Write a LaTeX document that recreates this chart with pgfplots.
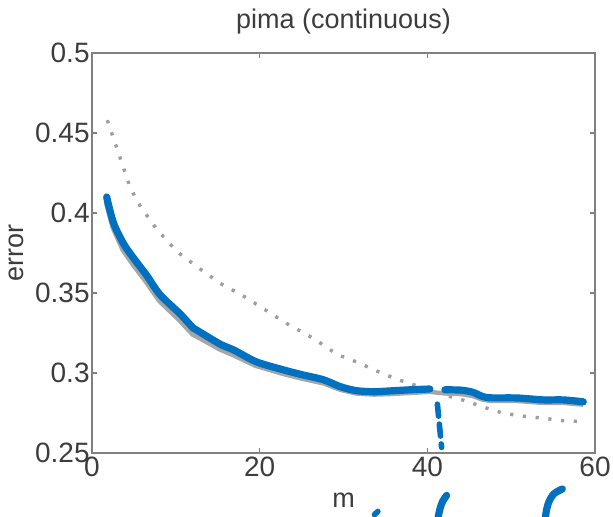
\documentclass[border=0pt]{standalone}
\usepackage{pgfplots}
\pgfplotsset{compat=1.18}
\usepackage{fontspec}
\setmainfont{Liberation Sans}
\definecolor{penblue}{RGB}{0,112,192}
\definecolor{axgray}{RGB}{128,128,128}
\definecolor{txtgray}{RGB}{60,60,60}
\begin{document}
\begin{tikzpicture}
\begin{axis}[
  scale only axis,
  width=251.5pt, height=200pt,
  xmin=0, xmax=60, ymin=0.25, ymax=0.5,
  xtick={0,20,40,60},
  ytick={0.25,0.3,0.35,0.4,0.45,0.5},
  yticklabels={0.25,0.3,0.35,0.4,0.45,0.5},
  tick align=inside,
  major tick length=2.5pt,
  every tick/.style={axgray, line width=0.8pt},
  axis line style={axgray, line width=1.3pt},
  /pgf/number format/assume math mode=true,
  tick label style={font=\fontsize{14}{16}\selectfont, text=txtgray},
  yticklabel style={inner sep=1pt},
  xticklabel style={inner sep=2pt},
  title={pima (continuous)},
  title style={font=\fontsize{13.5}{16}\selectfont, text=txtgray, yshift=0pt},
  xlabel={m},
  xlabel style={font=\fontsize{13.5}{16}\selectfont, text=txtgray, at={(axis description cs:0.5,0)}, anchor=base, yshift=-27pt},
  ylabel={error},
  ylabel style={font=\fontsize{13.5}{16}\selectfont, text=txtgray, at={(axis description cs:-0.150,0.5)}, anchor=center},
  clip=false,
]
% dotted gray curve
\addplot[black!38, line width=1.7pt, dash pattern=on 1.6pt off 4.8pt] coordinates {
(1.83,0.458)(2.35,0.450)(2.86,0.442)(3.42,0.4335)(3.9,0.426)(4.45,0.4175)
(5.13,0.410)(5.9,0.403)(6.9,0.396)(7.7,0.390)(10.1,0.376)(12.5,0.3665)
(15.3,0.356)(18.1,0.348)(20.8,0.339)(23.2,0.331)(26.4,0.3217)(29.2,0.3117)
(32.0,0.306)(33.6,0.302)(36.4,0.296)(37.9,0.2935)(41.5,0.287)(44.3,0.283)
(47.1,0.278)(49.1,0.2748)(51.9,0.2727)(53.9,0.2717)(56.2,0.2702)(58.6,0.2696)
};
% solid gray curve (underneath the blue)
\addplot[black!35, line width=2.2pt] coordinates {
(1.65,0.407)(2.45,0.391)(3.64,0.377)(4.83,0.368)(6.42,0.357)(8.01,0.345)
(10.4,0.333)(12.0,0.324)(12.8,0.3218)(15.2,0.3148)(16.8,0.3112)(19.5,0.3045)
(22.7,0.2995)(25,0.2965)(27.6,0.2935)(29.6,0.2895)(31.5,0.2872)(33.6,0.2865)
(35.5,0.2868)(37.9,0.2875)(40.3,0.2882)(42.1,0.2872)(44,0.2868)(45.4,0.2856)
(46.5,0.2835)(47.5,0.2825)(50.7,0.2825)(53.8,0.2813)(56.2,0.2813)(58.6,0.2802)
};
% blue hand-drawn curve, first part
\addplot[penblue, line width=3.6pt, line cap=round, line join=round, smooth] coordinates {
(1.75,0.410)(2.55,0.394)(3.74,0.381)(4.93,0.372)(6.52,0.361)(8.11,0.349)
(10.5,0.337)(12.1,0.328)(12.9,0.3255)(15.3,0.318)(16.9,0.3144)(19.6,0.307)
(22.8,0.302)(25,0.299)(27.6,0.2958)(29.6,0.2915)(31.5,0.289)(33.6,0.2883)
(35.5,0.2888)(37.9,0.2895)(40.3,0.2900)
};
% blue hand-drawn curve, second part
\addplot[penblue, line width=3.6pt, line cap=round, line join=round, smooth] coordinates {
(42.1,0.2895)(44,0.2893)(45.4,0.288)(46.5,0.2855)(47.5,0.2845)(50.7,0.2844)
(53.8,0.2832)(56.2,0.2832)(58.6,0.282)
};
% blue dashed vertical
\addplot[penblue, line width=2.8pt, line cap=round, dash pattern=on 6pt off 4pt] coordinates {
(41.2,0.2805)(41.7,0.2535)
};
% blue handwriting fragments below the axis
\addplot[penblue, line width=3.6pt, line cap=round, smooth] coordinates {
(42.3,0.2235)(41.8,0.2195)(41.5,0.2150)(41.3,0.2100)
};
\addplot[penblue, line width=3.6pt, line cap=round, smooth] coordinates {
(56.1,0.2275)(55.1,0.2245)(54.5,0.2195)(54.2,0.2140)(54.1,0.2100)
};
\addplot[penblue, line width=2.8pt, line cap=round] coordinates {
(33.7,0.2115)(34.1,0.2135)
};
\end{axis}
\pgfresetboundingbox
\path[use as bounding box] (-46pt,-32pt) rectangle (260.5pt,226.5pt);
\end{tikzpicture}
\end{document}
